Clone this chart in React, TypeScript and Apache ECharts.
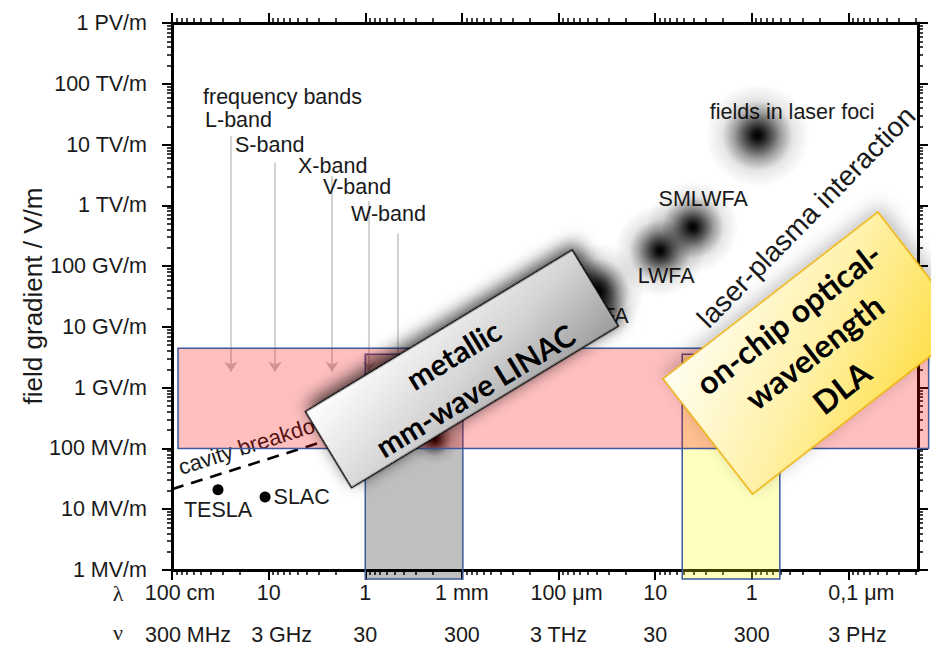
import React, { useEffect, useRef } from "react";
import * as echarts from "echarts";

// x = -log10(wavelength / 1 m)  (decades), y = log10(field gradient / (V/m))
const xMin = 0;
const xMax = 7.72;
const yMin = 6;
const yMax = 15;

const wavelengthDecades = [0, 1, 2, 3, 4, 5, 6, 7];
const wavelengthLabels = ["100 cm", "10", "1", "1 mm", "100 μm", "10", "1", "0,1 μm"];
const frequencyLabels = ["300 MHz", "3 GHz", "30", "300", "3 THz", "30", "300", "3 PHz"];
const gradientDecades = [6, 7, 8, 9, 10, 11, 12, 13, 14, 15];
const gradientLabels = [
  "1 MV/m", "10 MV/m", "100 MV/m", "1 GV/m", "10 GV/m",
  "100 GV/m", "1 TV/m", "10 TV/m", "100 TV/m", "1 PV/m",
];

// conventional accelerators
const acceleratorNames = ["TESLA", "SLAC"];
const acceleratorX = [0.476, 0.963];
const acceleratorY = [7.32, 7.2];

// cavity breakdown limit
const breakdownX = [0, 2.0];
const breakdownY = [7.33, 8.33];
const breakdownText = "cavity breakdown";
const breakdownTextX = 0.072;
const breakdownTextY = 7.68;

// frequency bands
const bandsTitle = "frequency bands";
const bandsTitleX = 0.321;
const bandsTitleY = 13.78;
const bandNames = ["L-band", "S-band", "X-band", "V-band", "W-band"];
const bandX = [0.61, 1.066, 1.656, 2.04, 2.34];
const bandTopY = [13.14, 12.71, 12.48, 12.07, 11.54];
const bandArrowY = 9.26;
const bandLabelX = [0.342, 0.652, 1.304, 1.563, 1.853];
const bandLabelY = [13.4, 12.99, 12.655, 12.3, 11.86];

// laser / plasma field regions
const blobNames = ["fields in laser foci", "SMLWFA", "LWFA", "PWFA", ""];
const blobX = [6.06, 5.39, 5.05, 4.4, 2.72];
const blobY = [13.15, 11.64, 11.25, 10.59, 8.15];
const blobLabelX = [6.418, 5.497, 5.114, 4.41, 0];
const blobLabelY = [13.53, 12.1, 10.84, 10.18, 0];
const plasmaText = "laser-plasma interaction";
const plasmaTextX = 6.563;
const plasmaTextY = 11.81;

// shaded ranges: [xFrom, xTo, yFrom, yTo]
const metallicRange = [2.0, 3.01, 5.85, 9.55];
const dlaRange = [5.28, 6.29, 5.85, 9.55];
const gradientBand = [0.062, 7.83, 8, 9.65];

// callout boxes
const boxLines = [["metallic", "mm-wave LINAC"], ["on-chip optical-", "wavelength", "DLA"]];
const boxX = [3.0, 6.656];
const boxY = [9.31, 9.57];

const FONT = "'Liberation Sans', Arial, Helvetica, sans-serif";
const BOX_FONT = "Lato, 'Open Sans', sans-serif";
const TXT = "#1a1a1a";

const xMinorTicks: number[] = [];
for (let n = 0; n < 8; n++)
  for (let k = 2; k <= 9; k++) {
    const v = n + 1 - Math.log10(k);
    if (v <= xMax) xMinorTicks.push(v);
  }
const yMinorTicks: number[] = [];
for (let n = 6; n < 15; n++) for (let k = 2; k <= 9; k++) yMinorTicks.push(n + Math.log10(k));

function buildOption(): any {
  const lambdaShift: Record<number, number> = { 0: 8, 4: 8, 7: 13 };
  const nuShift: Record<number, number> = { 0: 16, 1: 13, 7: 9 };
  const labelFont = { fontSize: 21.5, color: TXT, fontFamily: FONT };

  const xBase = { type: "value", min: xMin, max: xMax, splitLine: { show: false } };
  const yBase = { type: "value", min: yMin, max: yMax, splitLine: { show: false } };
  const mainLine = { show: true, onZero: false, lineStyle: { color: "#000", width: 3 } };
  const noLine = { show: false, onZero: false };
  const majorTick = (vals: number[]) => ({
    show: true, customValues: vals, length: 10, lineStyle: { color: "#000", width: 2 },
  });
  const minorTick = (vals: number[]) => ({
    show: true, customValues: vals, length: 5, lineStyle: { color: "#000", width: 1.5 },
  });

  const shiftFmt = (labels: string[], shifts: Record<number, number>) => (v: number) => {
    const i = Math.round(v);
    const s = shifts[i];
    return s ? `{p${s}|${labels[i]}}` : labels[i];
  };
  const rich: any = {};
  [8, 9, 13, 16].forEach((s) => {
    rich["p" + s] = { ...labelFont, padding: [0, 0, 0, 2 * s] };
  });

  const labelItems: any[] = [
    { text: bandsTitle, x: bandsTitleX, y: bandsTitleY, align: "left", size: 21.5, rot: 0 },
    ...bandNames.map((t, i) => ({ text: t, x: bandLabelX[i], y: bandLabelY[i], align: "left", size: 21.5, rot: 0 })),
    ...blobNames
      .map((t, i) => ({ text: t, x: blobLabelX[i], y: blobLabelY[i], align: "center", size: 21.5, rot: 0 }))
      .filter((d) => d.text),
    { text: plasmaText, x: plasmaTextX, y: plasmaTextY, align: "center", size: 28, rot: 45.5 },
    { text: breakdownText, x: breakdownTextX, y: breakdownTextY, align: "left", size: 22, rot: 17.7 },
  ];

  const blobFill = new echarts.graphic.RadialGradient(0.5, 0.5, 0.5, [
    { offset: 0, color: "rgba(0,0,0,1)" },
    { offset: 0.08, color: "rgba(0,0,0,0.95)" },
    { offset: 0.25, color: "rgba(0,0,0,0.7)" },
    { offset: 0.45, color: "rgba(0,0,0,0.38)" },
    { offset: 0.68, color: "rgba(0,0,0,0.1)" },
    { offset: 1, color: "rgba(0,0,0,0)" },
  ]);
  const blobSizes = [104, 92, 92, 96, 50];

  const rectFills = ["rgba(0,0,0,0.25)", "rgba(255,255,0,0.25)", "rgba(255,0,0,0.25)"];
  const ranges = [metallicRange, dlaRange, gradientBand];

  const boxStyles = [
    {
      w: 312, h: 89, rot: 31.2, size: 30, lineY: [-17, 25],
      fill: new echarts.graphic.LinearGradient(0, 0, 1, 1, [
        { offset: 0, color: "#ffffff" },
        { offset: 0.55, color: "#d4d4d4" },
        { offset: 1, color: "#9c9c9c" },
      ]),
      stroke: "#000", shadow: "rgba(0,0,0,0.8)",
    },
    {
      w: 272, h: 146, rot: 37.8, size: 32, lineY: [-44, -2, 43],
      fill: new echarts.graphic.LinearGradient(0, 0, 1, 1, [
        { offset: 0, color: "#fffef2" },
        { offset: 0.5, color: "#fff1a6" },
        { offset: 1, color: "#ffdc3c" },
      ]),
      stroke: "#ecb000", shadow: "rgba(0,0,0,0.25)",
    },
  ];

  return {
    animation: false,
    backgroundColor: "#fff",
    grid: { left: 172, right: 13, top: 23, bottom: 75, containLabel: false },
    xAxis: [
      {
        ...xBase, position: "bottom", axisLine: mainLine, axisTick: majorTick(wavelengthDecades),
        axisLabel: {
          show: true, customValues: wavelengthDecades, margin: 12, ...labelFont,
          formatter: shiftFmt(wavelengthLabels, lambdaShift), rich,
        },
      },
      { ...xBase, position: "bottom", axisLine: noLine, axisTick: minorTick(xMinorTicks), axisLabel: { show: false } },
      {
        ...xBase, position: "bottom", offset: 42, axisLine: noLine, axisTick: { show: false },
        axisLabel: {
          show: true, customValues: wavelengthDecades, margin: 12, ...labelFont,
          formatter: shiftFmt(frequencyLabels, nuShift), rich,
        },
      },
      { ...xBase, position: "top", axisLine: mainLine, axisTick: majorTick(wavelengthDecades), axisLabel: { show: false } },
      { ...xBase, position: "top", axisLine: noLine, axisTick: minorTick(xMinorTicks), axisLabel: { show: false } },
    ],
    yAxis: [
      {
        ...yBase, position: "left", axisLine: mainLine, axisTick: majorTick(gradientDecades),
        axisLabel: {
          show: true, customValues: gradientDecades, margin: 25, ...labelFont,
          formatter: (v: number) => gradientLabels[Math.round(v) - yMin],
        },
      },
      { ...yBase, position: "left", axisLine: noLine, axisTick: minorTick(yMinorTicks), axisLabel: { show: false } },
      { ...yBase, position: "right", axisLine: mainLine, axisTick: majorTick(gradientDecades), axisLabel: { show: false } },
      { ...yBase, position: "right", axisLine: noLine, axisTick: minorTick(yMinorTicks), axisLabel: { show: false } },
    ],
    graphic: [
      {
        type: "text", x: 33, y: 296, rotation: Math.PI / 2, silent: true,
        style: { text: "field gradient / V/m", fontSize: 26, fontFamily: FONT, fill: TXT, align: "center", verticalAlign: "middle" },
      },
      {
        type: "text", x: 118, y: 593, silent: true,
        style: { text: "λ", fontSize: 22, fontFamily: "'Liberation Serif', serif", fill: TXT, align: "center", verticalAlign: "middle" },
      },
      {
        type: "text", x: 118, y: 632, silent: true,
        style: { text: "ν", fontSize: 22, fontFamily: "'Liberation Serif', serif", fill: TXT, align: "center", verticalAlign: "middle" },
      },
    ],
    series: [
      {
        type: "scatter", name: "fields", silent: true, z: 2,
        data: blobX.map((x, i) => [x, blobY[i]]),
        symbol: "circle",
        symbolSize: (_v: any, p: any) => blobSizes[p.dataIndex],
        itemStyle: { color: blobFill, borderWidth: 0, opacity: 1 },
      },
      {
        type: "line", name: "cavity breakdown", silent: true, z: 2,
        data: breakdownX.map((x, i) => [x, breakdownY[i]]),
        symbol: "none",
        lineStyle: { color: "#000", width: 2.6, type: [12, 8] },
      },
      {
        type: "lines", coordinateSystem: "cartesian2d", silent: true, z: 2,
        data: bandX.map((x, i) => ({ coords: [[x, bandTopY[i]], [x, bandArrowY]] })),
        symbol: ["none", "arrow"], symbolSize: 10,
        lineStyle: { color: "#c4c4c4", width: 1.5, opacity: 1 },
      },
      {
        type: "scatter", name: "accelerators", silent: true, z: 2,
        data: acceleratorX.map((x, i) => ({
          value: [x, acceleratorY[i]], name: acceleratorNames[i],
          label: i === 0 ? { position: "bottom", distance: 4 } : { position: "right", distance: 3 },
        })),
        symbolSize: 11,
        itemStyle: { color: "#000", opacity: 1 },
        label: { show: true, formatter: "{b}", ...labelFont, opacity: 1 },
      },
      {
        type: "custom", name: "labels", silent: true, z: 2,
        data: labelItems.map((d) => [d.x, d.y]),
        renderItem: (params: any, api: any) => {
          const it = labelItems[params.dataIndex];
          const p = api.coord([api.value(0), api.value(1)]);
          return {
            type: "text", x: p[0], y: p[1], rotation: (it.rot * Math.PI) / 180,
            style: { text: it.text, fontSize: it.size, fontFamily: FONT, fill: TXT, align: it.align, verticalAlign: "middle" },
          };
        },
      },
      {
        type: "custom", name: "ranges", silent: true, z: 3, clip: false,
        data: ranges.map((r) => r.slice()),
        renderItem: (params: any, api: any) => {
          const a = api.coord([api.value(0), api.value(3)]);
          const b = api.coord([api.value(1), api.value(2)]);
          return {
            type: "rect",
            shape: { x: a[0], y: a[1], width: b[0] - a[0], height: b[1] - a[1] },
            style: { fill: rectFills[params.dataIndex], stroke: "#3c5a9c", lineWidth: 1.5 },
          };
        },
      },
      {
        type: "custom", name: "callouts", silent: true, z: 5, clip: false,
        data: boxX.map((x, i) => [x, boxY[i]]),
        renderItem: (params: any, api: any) => {
          const i = params.dataIndex;
          const s = boxStyles[i];
          const p = api.coord([api.value(0), api.value(1)]);
          return {
            type: "group", x: p[0], y: p[1], rotation: (s.rot * Math.PI) / 180,
            children: [
              {
                type: "rect",
                shape: { x: -s.w / 2, y: -s.h / 2, width: s.w, height: s.h },
                style: {
                  fill: s.fill, stroke: s.stroke, lineWidth: 1.5,
                  shadowBlur: 18, shadowColor: s.shadow, shadowOffsetX: 6, shadowOffsetY: -4,
                },
              },
              ...boxLines[i].map((t, k) => ({
                type: "text", x: 0, y: s.lineY[k],
                style: {
                  text: t, fontSize: s.size, fontWeight: "bold", fontFamily: BOX_FONT,
                  fill: "#000", align: "center", verticalAlign: "middle",
                },
              })),
            ],
          };
        },
      },
    ],
  };
}

export default function App() {
  const ref = useRef<HTMLDivElement>(null);
  useEffect(() => {
    if (!ref.current) return;
    const chart = echarts.init(ref.current, null, { renderer: "svg" });
    chart.setOption(buildOption());
    return () => chart.dispose();
  }, []);
  return (
    <div
      ref={ref}
      style={{ position: "fixed", left: 0, top: 0, width: 931, height: 646, background: "#fff" }}
    />
  );
}
